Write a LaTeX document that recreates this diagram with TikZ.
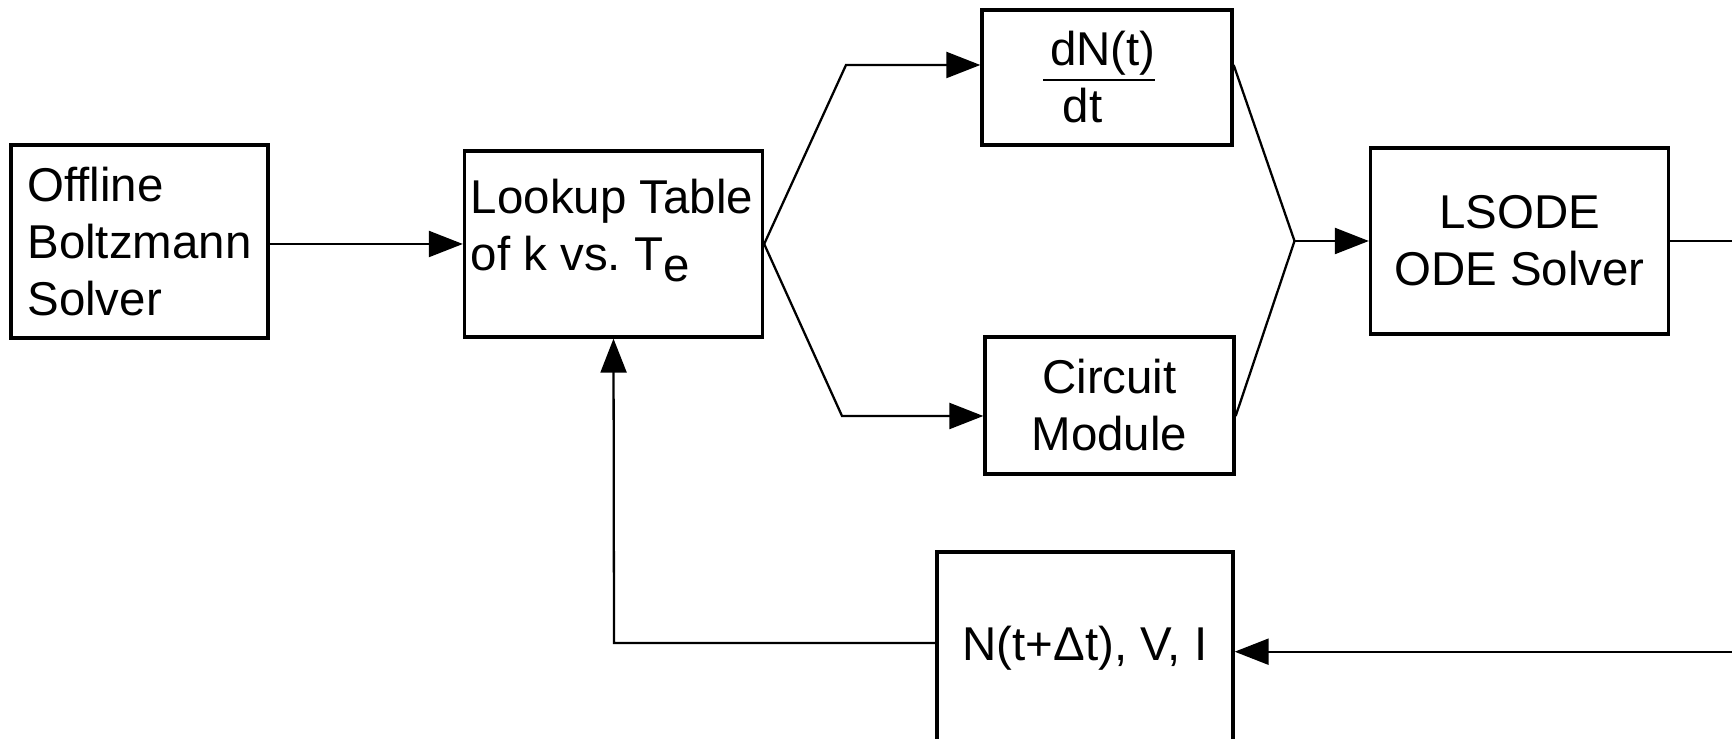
\documentclass[tikz,border=0pt]{standalone}
\usepackage{fontspec}
\setmainfont{Liberation Sans}
\usetikzlibrary{arrows.meta,calc}
\tikzset{
  kasten/.style={draw,line width=1.9pt,inner sep=0pt},
  pfeil/.style={-{Triangle[length=0.68cm,width=0.52cm]},line width=1.3pt},
  linie/.style={line width=1.3pt},
}

\begin{document}
\begin{tikzpicture}[font=\fontsize{27}{32.4}\selectfont]
  \useasboundingbox (0,0) rectangle (34.64,14.78);
  \node[kasten,align=left,minimum width=5.14cm,minimum height=3.86cm] (off) at (2.79,9.95) {Offline\\Boltzmann\\Solver};
  \node[kasten,minimum width=5.96cm,minimum height=3.72cm] (lut) at (12.27,9.90) {};
  \node[align=left] (luttxt) at (12.24,10.17) {Lookup Table\\of k vs.\ T\raisebox{-0.22em}{e}};
  \node[kasten,align=left,minimum width=5cm,minimum height=2.7cm] (dn) at (22.14,13.23)
    {\rlap{\hspace*{0.15em}dN(t)}\rule[-8.75pt]{2.24cm}{1.4pt}\rule{0.32cm}{0pt}\\\hspace*{0.42em}dt};
  \node[kasten,align=center,minimum width=4.98cm,minimum height=2.74cm] (cm) at (22.19,6.67) {Circuit\\Module};
  \node[kasten,align=center,minimum width=5.96cm,minimum height=3.72cm] (ls) at (30.39,9.96) {LSODE\\ODE Solver};
  \node[kasten,minimum width=5.92cm,minimum height=3.84cm] (nb) at (21.7,1.82) {N(t+Δt), V, I};
  \coordinate (oben) at (16.92,13.48);
  \coordinate (unten) at (16.84,6.46);
  \coordinate (knoten) at (25.89,9.96);
  \coordinate (rechtsoben) at (34.64,9.96);
  \coordinate (rechtsunten) at (34.64,1.746);
  \coordinate (rueck) at (12.28,1.92);
  \draw[pfeil] (off.east |- lut.west) -- (lut.west);
  \draw[pfeil] (lut.east) -- (oben) -- (oben -| dn.west);
  \draw[pfeil] (lut.east) -- (unten) -- (unten -| cm.west);
  \draw[linie] (dn.east |- oben) -- (knoten) -- (cm.east |- unten);
  \draw[pfeil] (knoten) -- (knoten -| ls.west);
  \draw[linie] (ls.east) -- (rechtsoben);
  \draw[pfeil] (rechtsunten) -- (rechtsunten -| nb.east);
  \draw[pfeil] (nb.west |- rueck) -- (rueck) -- (lut.south);
\end{tikzpicture}
\end{document}
